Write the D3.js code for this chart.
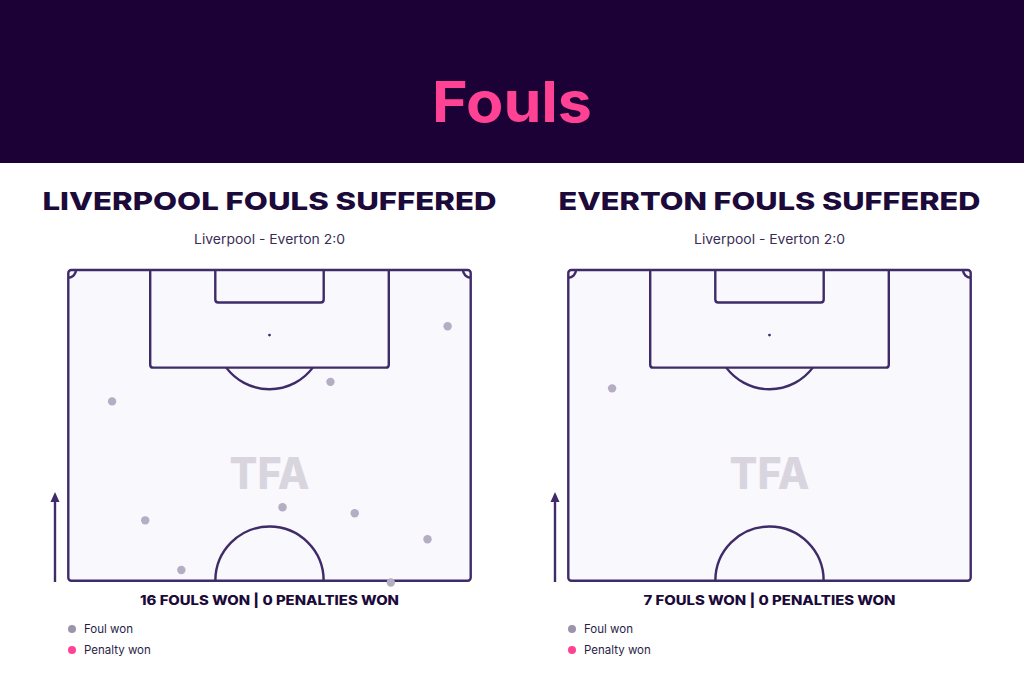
<!DOCTYPE html>
<html><head><meta charset="utf-8">
<script src="https://cdn.jsdelivr.net/npm/d3@7"></script>
<style>body{margin:0;background:#fff}svg{display:block}</style>
</head><body>
<script>
// ---- data ----
const panelTitles = ["LIVERPOOL FOULS SUFFERED", "EVERTON FOULS SUFFERED"];
const matchLabel = "Liverpool - Everton 2:0";
const summaryLabels = ["16 FOULS WON | 0 PENALTIES WON", "7 FOULS WON | 0 PENALTIES WON"];
const legendLabels = ["Foul won", "Penalty won"];
// foul locations: x = metres across pitch (0-68), y = metres from goal line (0-52.5)
const liverpoolFoulsX = [64.1, 44.3, 7.4, 36.2, 13.0, 48.4, 60.7, 19.1, 54.5];
const liverpoolFoulsY = [9.5, 18.9, 22.2, 40.1, 42.3, 41.1, 45.5, 50.7, 52.8];
const evertonFoulsX = [7.4];
const evertonFoulsY = [20.0];
const penaltiesX = [[], []];
const penaltiesY = [[], []];

const W = 1024, H = 683;
const C = {bg:"#1c0136", pink:"#ff4294", ink:"#1c0a3a", line:"#3e2b68", pitch:"#f9f8fc", dot:"#b4adc3", legDot:"#9b94ab", mark:"#d9d5df"};

const svg = d3.select("body").append("svg").attr("width", W).attr("height", H);
svg.append("rect").attr("width", W).attr("height", 163).attr("fill", C.bg);
svg.append("text").attr("x", 512).attr("y", 122).attr("text-anchor", "middle")
  .attr("font-family", "Inter, 'Open Sans', sans-serif").attr("font-weight", 700)
  .attr("font-size", 56).attr("fill", C.pink).attr("textLength", 160).attr("lengthAdjust", "spacingAndGlyphs").text("Fouls");

const panels = [
  {xs: liverpoolFoulsX, ys: liverpoolFoulsY},
  {xs: evertonFoulsX, ys: evertonFoulsY}
];

panels.forEach((p, i) => {
  const off = i * 500;
  const g = svg.append("g").attr("transform", `translate(${off},0)`);
  const x = d3.scaleLinear().domain([0, 68]).range([68.3, 470.7]);
  const y = d3.scaleLinear().domain([0, 52.5]).range([270, 580.7]);
  const cx = (x(0) + x(68)) / 2;

  g.append("text").attr("x", cx).attr("y", 210).attr("text-anchor", "middle")
    .attr("font-family", "Inter, sans-serif").attr("font-weight", 800).attr("font-size", 25)
    .attr("fill", C.ink).attr("textLength", i === 0 ? 454 : 422).attr("lengthAdjust", "spacingAndGlyphs")
    .text(panelTitles[i]);
  g.append("text").attr("x", cx).attr("y", 244).attr("text-anchor", "middle")
    .attr("font-family", "Inter, sans-serif").attr("font-size", 13).attr("fill", "#3a2c55")
    .attr("textLength", 151).attr("lengthAdjust", "spacingAndGlyphs").text(matchLabel);

  // pitch
  const k = x(1) - x(0);
  const lineAttrs = s => s.attr("fill", "none").attr("stroke", C.line).attr("stroke-width", 2.4);
  g.append("rect").attr("x", x(0)).attr("y", y(0)).attr("width", x(68) - x(0)).attr("height", y(52.5) - y(0))
    .attr("rx", 3).attr("fill", C.pitch).attr("stroke", C.line).attr("stroke-width", 2.4);
  const pb = (68 - 40.32) / 2, sb = (68 - 18.32) / 2;
  lineAttrs(g.append("path")).attr("d", `M${x(pb)},${y(0)} V${y(16.5) - 3} q0,3 3,3 H${x(68 - pb) - 3} q3,0 3,-3 V${y(0)}`);
  lineAttrs(g.append("path")).attr("d", `M${x(sb)},${y(0)} V${y(5.5) - 3} q0,3 3,3 H${x(68 - sb) - 3} q3,0 3,-3 V${y(0)}`);
  g.append("circle").attr("cx", x(34)).attr("cy", y(11)).attr("r", 1.4).attr("fill", C.line);
  const r = 9.15;
  const dy = 16.5 - 11, dx = Math.sqrt(r * r - dy * dy);
  lineAttrs(g.append("path")).attr("d", `M${x(34 - dx)},${y(16.5)} A${r * k},${r * k} 0 0 0 ${x(34 + dx)},${y(16.5)}`);
  lineAttrs(g.append("path")).attr("d", `M${x(34 - r)},${y(52.5)} A${r * k},${r * k} 0 0 1 ${x(34 + r)},${y(52.5)}`);
  const cr = 1.3;
  lineAttrs(g.append("path")).attr("d", `M${x(0)},${y(cr)} A${cr * k},${cr * k} 0 0 0 ${x(cr)},${y(0)}`);
  lineAttrs(g.append("path")).attr("d", `M${x(68 - cr)},${y(0)} A${cr * k},${cr * k} 0 0 0 ${x(68)},${y(cr)}`);

  // watermark
  g.append("text").attr("x", cx).attr("y", 489).attr("text-anchor", "middle")
    .attr("font-family", "Inter, sans-serif").attr("font-weight", 800).attr("font-size", 44)
    .attr("fill", C.mark).attr("textLength", 80).attr("lengthAdjust", "spacingAndGlyphs").text("TFA");

  // arrow
  g.append("line").attr("x1", 55).attr("x2", 55).attr("y1", 582).attr("y2", 500)
    .attr("stroke", C.line).attr("stroke-width", 2.4);
  g.append("path").attr("d", "M55,492 L50.5,502 L59.5,502 Z").attr("fill", C.line);

  // fouls
  const pts = p.xs.map((v, j) => ({x: v, y: p.ys[j]}));
  g.selectAll("circle.foul").data(pts).join("circle").attr("class", "foul")
    .attr("cx", d => x(d.x)).attr("cy", d => y(d.y)).attr("r", 4.2).attr("fill", C.dot);
  const pens = penaltiesX[i].map((v, j) => ({x: v, y: penaltiesY[i][j]}));
  g.selectAll("circle.pen").data(pens).join("circle").attr("class", "pen")
    .attr("cx", d => x(d.x)).attr("cy", d => y(d.y)).attr("r", 4.2).attr("fill", C.pink);

  // summary
  g.append("text").attr("x", cx).attr("y", 605).attr("text-anchor", "middle")
    .attr("font-family", "Inter, sans-serif").attr("font-weight", 800).attr("font-size", 13)
    .attr("fill", C.ink).attr("textLength", i === 0 ? 259 : 252).attr("lengthAdjust", "spacingAndGlyphs")
    .text(summaryLabels[i]);

  // legend
  const leg = g.selectAll("g.leg").data(legendLabels).join("g").attr("class", "leg")
    .attr("transform", (d, j) => `translate(72,${629 + j * 21})`);
  leg.append("circle").attr("r", 4).attr("fill", (d, j) => j === 0 ? C.legDot : C.pink);
  leg.append("text").attr("x", 12).attr("y", 4).attr("font-family", "Inter, sans-serif").attr("font-size", 11.5)
    .attr("fill", "#2a1d45").text(d => d);
});
</script>
</body></html>
